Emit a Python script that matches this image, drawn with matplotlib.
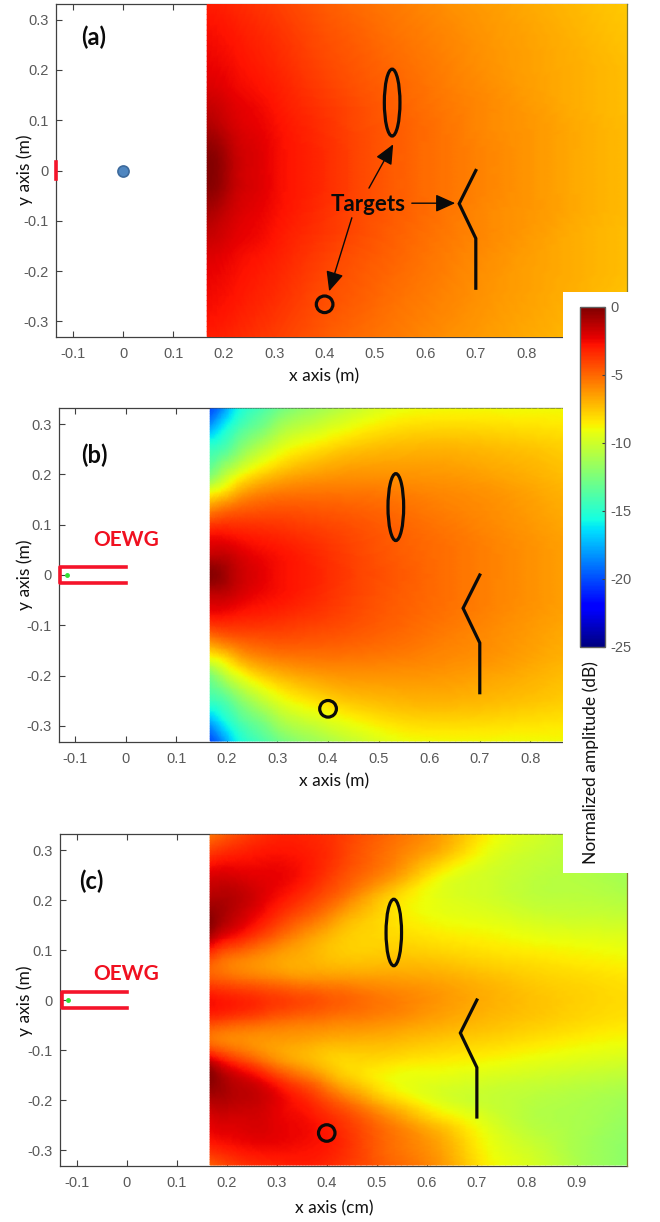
import numpy as np
import matplotlib
matplotlib.use("Agg")
import matplotlib.pyplot as plt
import matplotlib.tri as mtri
from matplotlib.patches import Ellipse

W, H = 660, 1222
GRAY = "#595959"
SPINE = "#404040"

plt.rcParams.update({
    "font.family": "Liberation Sans",
    "font.size": 10.5,
})

# --- targets (m) ---
ellipse_xy = (0.534, 0.135)
ellipse_wh = (0.031, 0.133)
circle_xy = (0.40, -0.266)
circle_d = 0.033
wedge_x = [0.70, 0.667, 0.70, 0.70]
wedge_y = [0.0, -0.066, -0.135, -0.234]

# --- OEWG outline ---
wg_x = [0, -0.13, -0.13, 0]
wg_y = [0.016, 0.016, -0.015, -0.015]
feed_x, feed_y = -0.117, 0.0

xticks = [-0.1, 0, 0.1, 0.2, 0.3, 0.4, 0.5, 0.6, 0.7, 0.8, 0.9]
yticks = [-0.3, -0.2, -0.1, 0, 0.1, 0.2, 0.3]
xticklabels = ["-0.1", "0", "0.1", "0.2", "0.3", "0.4", "0.5", "0.6", "0.7", "0.8", "0.9"]
yticklabels = ["-0.3", "-0.2", "-0.1", "0", "0.1", "0.2", "0.3"]
cbar_ticks = [0, -5, -10, -15, -20, -25]
cbar_labels = ["0", "-5", "-10", "-15", "-20", "-25"]

# --- amplitude in dB ---
x_ab = [0.167, 0.19, 0.22, 0.26, 0.30, 0.352, 0.445, 0.537, 0.63, 0.722, 0.815, 0.907, 1.0]
y_a = [0.33, 0.2475, 0.165, 0.125, 0.08, 0.04, 0.0]
field_a_top = [
    [-3.0, -3.1, -3.3, -3.6, -3.9, -4.3, -5.0, -5.5, -6.0, -6.4, -6.8, -7.2, -7.6],
    [-2.5, -2.6, -2.8, -3.1, -3.4, -3.9, -4.6, -5.2, -5.7, -6.2, -6.6, -7.0, -7.4],
    [-2.0, -2.1, -2.4, -2.7, -3.0, -3.5, -4.3, -4.9, -5.5, -6.0, -6.5, -6.9, -7.3],
    [-1.5, -1.7, -2.1, -2.4, -2.8, -3.3, -4.1, -4.8, -5.4, -5.9, -6.4, -6.9, -7.3],
    [-0.9, -1.2, -1.8, -2.2, -2.6, -3.1, -4.0, -4.7, -5.3, -5.9, -6.3, -6.8, -7.2],
    [-0.3, -0.6, -1.5, -2.0, -2.5, -3.0, -3.9, -4.7, -5.3, -5.8, -6.3, -6.8, -7.2],
    [-0.1, -0.4, -1.4, -2.0, -2.5, -3.0, -3.9, -4.7, -5.3, -5.8, -6.3, -6.8, -7.2],
]
y_b = [0.33, 0.29, 0.25, 0.20, 0.165, 0.125, 0.08, 0.04, 0.0]
field_b_top = [
    [-20.0, -18.5, -15.8, -14.3, -13.0, -11.8, -10.3, -9.2, -8.9, -8.9, -8.9, -9.0, -9.2],
    [-17.5, -16.0, -14.2, -12.8, -11.3, -10.2, -8.9, -8.1, -7.9, -8.0, -8.2, -8.4, -8.6],
    [-14.5, -14.0, -12.5, -10.8, -9.5, -8.5, -7.5, -7.1, -7.0, -7.2, -7.5, -7.9, -8.2],
    [-12.5, -11.0, -9.4, -8.0, -7.2, -6.6, -6.2, -6.2, -6.3, -6.6, -7.0, -7.5, -7.8],
    [-9.0, -8.3, -7.0, -6.0, -5.6, -5.4, -5.4, -5.6, -5.9, -6.2, -6.7, -7.2, -7.6],
    [-5.5, -5.0, -4.6, -4.4, -4.3, -4.4, -4.7, -5.1, -5.6, -6.0, -6.5, -7.0, -7.4],
    [-2.7, -2.7, -2.9, -3.1, -3.3, -3.6, -4.2, -4.8, -5.3, -5.8, -6.3, -6.8, -7.3],
    [-1.5, -1.5, -1.9, -2.4, -2.7, -3.1, -4.0, -4.7, -5.2, -5.7, -6.2, -6.7, -7.2],
    [-0.2, -0.6, -1.5, -2.1, -2.6, -3.0, -3.9, -4.6, -5.2, -5.7, -6.2, -6.7, -7.2],
]
# panel (c): one list per x column, top to bottom
x_c = [0.167, 0.19, 0.22, 0.26, 0.30, 0.352, 0.40, 0.445, 0.537, 0.63, 0.722, 0.815, 0.907, 1.0]
y_c = [0.33, 0.289, 0.2475, 0.206, 0.165, 0.124, 0.0825, 0.041, 0.0,
       -0.041, -0.0825, -0.124, -0.165, -0.206, -0.2475, -0.289, -0.33]
field_c_cols = [
    [-5.3, -3.5, -2.0, -1.2, -0.3, -1.3, -4.3, -4.5, -2.7, -3.8, -5.2, -1.5, -0.3, -1.3, -2.2, -3.0, -4.8],
    [-4.8, -3.2, -1.9, -1.1, -0.9, -2.3, -5.0, -4.7, -2.9, -4.0, -5.6, -2.5, -0.8, -1.2, -2.0, -2.8, -4.3],
    [-4.2, -3.0, -2.0, -1.3, -1.6, -3.0, -5.5, -5.0, -3.1, -4.3, -5.9, -3.5, -1.4, -1.4, -2.0, -2.6, -3.8],
    [-3.6, -2.8, -2.2, -1.9, -2.5, -4.0, -6.0, -5.3, -3.4, -4.6, -6.2, -4.6, -2.0, -1.6, -1.9, -2.4, -3.4],
    [-3.2, -2.7, -2.3, -2.6, -3.5, -5.0, -6.5, -5.6, -3.8, -5.0, -6.4, -5.8, -3.1, -2.2, -2.2, -2.4, -3.2],
    [-3.2, -2.9, -2.8, -3.5, -4.7, -6.2, -6.9, -6.0, -4.2, -5.3, -6.6, -6.8, -4.5, -3.0, -2.5, -2.6, -3.0],
    [-3.5, -3.4, -3.7, -4.5, -5.8, -7.1, -7.3, -6.1, -4.6, -5.5, -6.9, -7.6, -6.0, -4.1, -3.1, -2.9, -3.3],
    [-4.0, -4.2, -4.6, -5.6, -7.0, -7.7, -7.5, -6.2, -4.9, -5.7, -7.0, -8.0, -7.3, -5.2, -3.9, -3.6, -3.8],
    [-5.2, -5.6, -6.4, -8.0, -8.3, -8.0, -7.4, -6.4, -5.6, -6.1, -7.2, -8.3, -9.0, -7.6, -5.8, -5.3, -5.0],
    [-6.5, -7.3, -8.9, -9.4, -9.1, -8.4, -7.6, -6.7, -6.3, -6.7, -7.6, -8.6, -9.5, -9.4, -7.7, -6.7, -6.3],
    [-8.6, -9.3, -9.9, -9.9, -9.4, -8.7, -8.0, -7.2, -6.9, -7.2, -7.9, -8.9, -9.9, -10.2, -9.5, -9.0, -8.6],
    [-9.8, -10.2, -10.5, -10.5, -9.9, -9.1, -8.3, -7.7, -7.4, -7.6, -8.3, -9.3, -10.2, -10.7, -10.7, -10.2, -9.8],
    [-10.6, -10.7, -10.8, -10.6, -10.1, -9.3, -8.6, -8.0, -7.8, -8.0, -8.7, -9.6, -10.5, -11.0, -11.1, -11.2, -11.1],
    [-11.2, -11.3, -11.3, -10.9, -10.3, -9.5, -8.9, -8.3, -8.1, -8.3, -9.0, -9.9, -10.8, -11.4, -11.7, -11.9, -11.9],
]


def mirror(top):
    return np.vstack([top, top[-2::-1]])


def mirror_y(y_top):
    return np.concatenate([y_top, -np.array(y_top[-2::-1])])


def px_axes(l, t, r, b):
    return fig.add_axes([l / W, 1 - b / H, (r - l) / W, (b - t) / H])


def panel(box, xs, ys, field, ylim, xlabel, nticks):
    ax = px_axes(*box)
    # smooth the hand-read grid with matplotlib's own triangulation refiner
    X, Y = np.meshgrid(xs, ys)
    tri = mtri.Triangulation(X.ravel(), Y.ravel())
    tri_fine, z_fine = mtri.UniformTriRefiner(tri).refine_field(field.ravel(), subdiv=3)
    mesh = ax.tripcolor(tri_fine, z_fine, cmap="jet", vmin=-25, vmax=0, shading="gouraud", zorder=3)
    ax.set_xlim(-0.133, 1.0)
    ax.set_ylim(-ylim, ylim)
    ax.set_xticks(xticks[:nticks], xticklabels[:nticks])
    ax.set_yticks(yticks, yticklabels)
    ax.set_axisbelow(True)
    ax.tick_params(direction="in", length=4, width=0.8, color=SPINE, labelcolor=GRAY, top=True)
    ax.tick_params(axis="x", pad=7)
    ax.tick_params(axis="y", pad=5)
    for name, sp in ax.spines.items():
        sp.set_color(SPINE)
        sp.set_linewidth(0.9)
        sp.set_zorder(2)
    ax.spines["right"].set_zorder(5)
    ax.spines["right"].set_color("#807a30")

    # targets
    ax.add_patch(Ellipse(ellipse_xy, *ellipse_wh, fill=False, ec="#0a0a0a", lw=2.3, zorder=4))
    ax.add_patch(Ellipse(circle_xy, circle_d, circle_d, fill=False, ec="#0a0a0a", lw=2.3, zorder=4))
    ax.plot(wedge_x, wedge_y, color="#0a0a0a", lw=2.3, zorder=4, solid_joinstyle="miter")

    fig.text(xlabel[1] / W, 1 - xlabel[2] / H, xlabel[0], ha="center", va="center",
             family="Lato", fontsize=12.5, color="#111111")
    return ax, mesh


def waveguide(ax):
    ax.plot(wg_x, wg_y, color="#f5142a", lw=2.6, zorder=4, clip_on=False)
    ax.plot([feed_x], [feed_y], "o", color="#33e033", ms=2.5, zorder=5)


fig = plt.figure(figsize=(W / 100, H / 100), dpi=100, facecolor="white")

ax_a, im = panel((56, 4, 627, 337), x_ab, mirror_y(y_a), mirror(np.array(field_a_top)), 0.331,
                 ("x axis (m)", 324, 376), 10)
ax_b, _ = panel((58.5, 408, 631.5, 742), x_ab, mirror_y(y_b), mirror(np.array(field_b_top)), 0.332,
                ("x axis (m)", 334, 781), 10)
ax_c, _ = panel((60, 834, 627, 1166), x_c, y_c, np.array(field_c_cols).T, 0.332,
                ("x axis (cm)", 334, 1208), 11)

# --- panel (a) extras ---
ax_a.plot([-0.133, -0.133], [-0.017, 0.017], color="#f5142a", lw=2.6, clip_on=False, zorder=4)
ax_a.plot([0], [0], "o", ms=8, mfc="#4f86c0", mec="#3d6a9c", mew=1.2, zorder=4)
ax_a.text(0.486, -0.067, "Targets", ha="center", va="center", family="Lato",
          fontweight="bold", fontsize=16, color="#0a0a0a", zorder=6)
arrow_starts = [(0.488, -0.035), (0.454, -0.094), (0.573, -0.065)]
arrow_ends = [(0.536, 0.052), (0.409, -0.24), (0.659, -0.065)]
for s, e in zip(arrow_starts, arrow_ends):
    ax_a.annotate("", xy=e, xytext=s, zorder=6,
                  arrowprops=dict(arrowstyle="-|>,head_length=1.0,head_width=0.45", mutation_scale=12,
                                  color="#0a0a0a", lw=1.0, shrinkA=0, shrinkB=0))

# --- OEWG ---
waveguide(ax_b)
waveguide(ax_c)
ax_b.text(0.0, 0.05, "OEWG", ha="center", va="bottom", family="Lato", fontweight="bold",
          fontsize=15, color="#f01020")
ax_c.text(0.0, 0.033, "OEWG", ha="center", va="bottom", family="Lato", fontweight="bold",
          fontsize=15, color="#f01020")

# --- panel letters ---
for (x, y), s in zip([(94, 37), (94, 455), (91, 881)], ["(a)", "(b)", "(c)"]):
    fig.text(x / W, 1 - y / H, s, ha="center", va="center", family="Lato", fontweight="bold",
             fontsize=17, color="#0a0a0a", zorder=7)

# --- y labels ---
for y in [170, 575, 1001]:
    fig.text(25 / W, 1 - y / H, "y axis (m)", rotation=90, ha="center", va="center",
             family="Lato", fontsize=12.5, color="#111111")

# --- white block behind the colour bar, hides the right side of (a), (b) and top of (c) ---
cover = px_axes(563, 292, 660, 873)
cover.set_facecolor("white")
cover.set_xticks([])
cover.set_yticks([])
for sp in cover.spines.values():
    sp.set_visible(False)
cover.set_zorder(5)

cax = px_axes(580, 307, 605, 647)
cax.set_zorder(6)
cb = fig.colorbar(im, cax=cax, ticks=cbar_ticks)
cb.set_ticklabels(cbar_labels)
cb.ax.tick_params(direction="in", length=2.5, width=0.8, color=SPINE, labelcolor=GRAY, pad=4)
cb.outline.set_edgecolor("#606060")
cb.outline.set_linewidth(1.0)
fig.text(591 / W, 1 - 763 / H, "Normalized amplitude (dB)", rotation=90, ha="center", va="center",
         family="Lato", fontsize=12.5, color="#111111", zorder=7)

fig.savefig("out.png", dpi=100, facecolor="white")
